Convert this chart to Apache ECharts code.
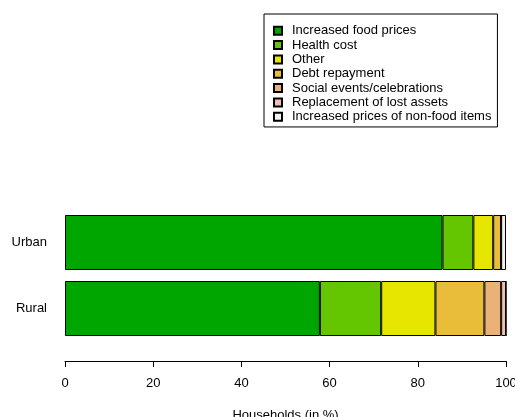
<!DOCTYPE html>
<html>
<head>
<meta charset="utf-8">
<script src="https://cdn.jsdelivr.net/npm/echarts@6/dist/echarts.min.js"></script>
<style>html,body{margin:0;padding:0;background:#fff}#c{width:515px;height:417px}</style>
</head>
<body>
<div id="c"></div>
<script>
var categories = ['Urban', 'Rural'];
var seriesNames = ['Increased food prices', 'Health cost', 'Other', 'Debt repayment', 'Social events/celebrations', 'Replacement of lost assets', 'Increased prices of non-food items'];
var foodPrices = [85.6, 57.8];
var healthCost = [7.0, 13.9];
var other = [4.5, 12.3];
var debtRepayment = [1.8, 11.1];
var socialEvents = [0, 3.8];
var lostAssets = [0, 1.1];
var nonFoodPrices = [1.1, 0];
var xTicks = [0, 20, 40, 60, 80, 100];
var colors = ['#00A600', '#63C600', '#E6E600', '#E9BD3A', '#ECB176', '#EFC2B3', '#F2F2F2'];

var values = [foodPrices, healthCost, other, debtRepayment, socialEvents, lostAssets, nonFoodPrices];
var font = 'Liberation Sans, Arial, sans-serif';
var chart = echarts.init(document.getElementById('c'), null, {renderer: 'canvas'});
var series = seriesNames.map(function (n, i) {
  return {
    name: n, type: 'bar', stack: 'a', barWidth: 55,
    data: values[i],
    itemStyle: {color: colors[i], borderColor: '#000', borderWidth: 1},
    emphasis: {disabled: true},
    animation: false
  };
});
chart.setOption({
  animation: false,
  textStyle: {fontFamily: font},
  grid: {left: 65, right: 9, top: 209.5, height: 132, containLabel: false, outerBoundsMode: 'none'},
  legend: {
    orient: 'vertical', left: 264, top: 14,
    padding: [9.5, 6, 3, 9],
    borderColor: '#000', borderWidth: 1,
    itemWidth: 8, itemHeight: 8, itemGap: 0,
    icon: 'rect',
    selectedMode: false,
    textStyle: {fontFamily: font, fontSize: 13, color: '#000', lineHeight: 14.35, padding: [0, 0, 0, 5]},
    data: seriesNames
  },
  xAxis: {
    type: 'value', min: 0, max: 100, interval: 20,
    offset: 19.5,
    axisLine: {show: true, lineStyle: {color: '#000', width: 1}},
    axisTick: {show: true, length: 6, lineStyle: {color: '#000'}},
    axisLabel: {fontFamily: font, fontSize: 13, color: '#000', margin: 16,
      formatter: function (v) { return xTicks.indexOf(v) >= 0 ? String(v) : ''; }},
    splitLine: {show: false},
    name: 'Households (in %)', nameLocation: 'middle', nameGap: 48,
    nameTextStyle: {fontFamily: font, fontSize: 13, color: '#000'}
  },
  yAxis: {
    type: 'category', data: categories, inverse: true,
    axisLine: {show: false}, axisTick: {show: false},
    axisLabel: {fontFamily: font, fontSize: 13, color: '#000', margin: 18}
  },
  series: series
});
</script>
</body>
</html>
